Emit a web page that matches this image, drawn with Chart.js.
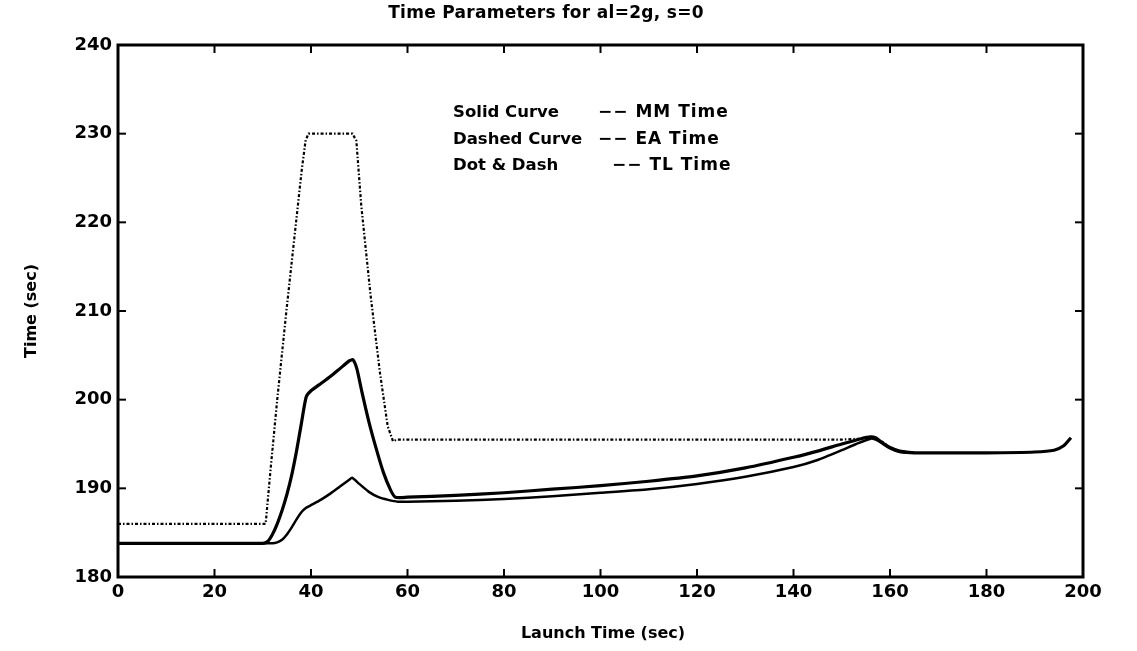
<!DOCTYPE html>
<html><head><meta charset="utf-8">
<script src="https://cdn.jsdelivr.net/npm/chart.js@4"></script>
<style>html,body{margin:0;padding:0;background:#fff}</style>
</head><body>
<canvas id="c" width="1137" height="651"></canvas>
<script>
// ---- data ----
const xTickValues = [0, 20, 40, 60, 80, 100, 120, 140, 160, 180, 200];
const yTickValues = [180, 190, 200, 210, 220, 230, 240];

const mmX = [0, 30, 31, 32, 33, 34, 35, 36, 37, 38, 39, 40, 42, 44, 46, 48, 48.7, 49.5, 50.5, 52, 53.5, 55, 56.5, 57.5, 60, 70, 80, 90, 100, 110, 120, 130, 140, 145, 150, 154, 156, 157, 158, 160, 162, 165, 170, 180, 190, 194, 196, 197.5];
const mmY = [183.8, 183.8, 184.0, 184.8, 186.0, 187.5, 189.3, 191.5, 194.2, 197.3, 200.3, 201.0, 201.8, 202.6, 203.5, 204.4, 204.5, 203.5, 201.0, 197.5, 194.5, 191.8, 189.8, 189.0, 189.0, 189.2, 189.5, 189.9, 190.3, 190.8, 191.4, 192.3, 193.5, 194.2, 195.0, 195.6, 195.8, 195.7, 195.3, 194.6, 194.2, 194.0, 194.0, 194.0, 194.1, 194.3, 194.8, 195.7];

const eaX = [0, 32, 33, 34, 35, 36, 37, 38, 39, 40, 42, 44, 46, 48, 48.5, 50, 52, 54, 56, 58, 60, 70, 80, 90, 100, 110, 120, 130, 140, 145, 150, 153, 156, 157, 158, 160, 162, 165];
const eaY = [183.8, 183.8, 183.9, 184.2, 184.8, 185.6, 186.5, 187.3, 187.8, 188.1, 188.7, 189.4, 190.2, 191.0, 191.2, 190.5, 189.6, 189.0, 188.7, 188.5, 188.5, 188.6, 188.8, 189.1, 189.5, 189.9, 190.5, 191.3, 192.4, 193.2, 194.3, 195.0, 195.6, 195.5, 195.2, 194.5, 194.1, 194.0];

const tlX = [0, 30.6, 31.6, 33.0, 34.9, 36.9, 38.1, 38.9, 39.5, 48.6, 49.4, 50.4, 52.3, 54.3, 55.9, 57.0, 57.8, 100, 150, 154, 156, 158, 160, 162, 165];
const tlY = [186, 186, 192, 200, 210, 220, 226, 229.3, 230, 230, 229.2, 222, 212, 203, 197, 195.3, 195.5, 195.5, 195.5, 195.6, 195.8, 195.4, 194.6, 194.2, 194.0];

const titleText = 'Time Parameters for al=2g, s=0';
const xTitle = 'Launch Time (sec)';
const yTitle = 'Time (sec)';
const legendNames = ['Solid Curve', 'Dashed Curve', 'Dot & Dash'];
const legendDesc = ['\u2212\u2212 MM Time', '\u2212\u2212 EA Time', '\u2212\u2212 TL Time'];

const pts = (xs, ys) => xs.map((x, i) => ({x, y: ys[i]}));
const FONT = '"DejaVu Sans", "Liberation Sans", sans-serif';

const framePlugin = {
  id: 'frame',
  afterDatasetsDraw(chart) {
    const {ctx, chartArea: a, scales} = chart;
    ctx.save();
    ctx.strokeStyle = '#000';
    ctx.lineWidth = 3;
    ctx.strokeRect(a.left, a.top, a.right - a.left, a.bottom - a.top);
    ctx.lineWidth = 2;
    const L = 8;
    xTickValues.forEach(v => {
      const px = scales.x.getPixelForValue(v);
      ctx.beginPath(); ctx.moveTo(px, a.bottom); ctx.lineTo(px, a.bottom - L); ctx.stroke();
      ctx.beginPath(); ctx.moveTo(px, a.top); ctx.lineTo(px, a.top + L); ctx.stroke();
    });
    yTickValues.forEach(v => {
      const py = scales.y.getPixelForValue(v);
      ctx.beginPath(); ctx.moveTo(a.left, py); ctx.lineTo(a.left + L, py); ctx.stroke();
      ctx.beginPath(); ctx.moveTo(a.right, py); ctx.lineTo(a.right - L, py); ctx.stroke();
    });
    ctx.restore();
  },
  afterDraw(chart) {
    const {ctx} = chart;
    ctx.save();
    ctx.fillStyle = '#000';
    ctx.textBaseline = 'middle';
    ctx.font = 'bold 17px ' + FONT;
    ctx.textAlign = 'center';
    ctx.letterSpacing = '0.3px';
    ctx.fillText(titleText, 546, 14);
    ctx.letterSpacing = '0px';
    ctx.font = 'bold 16px ' + FONT;
    ctx.fillText(xTitle, 603, 634);
    ctx.save();
    ctx.translate(32, 311);
    ctx.rotate(-Math.PI / 2);
    ctx.fillText(yTitle, 0, 0);
    ctx.restore();
    ctx.textAlign = 'left';
    const ly = [113, 140, 166];
    const dx = [598, 598, 612];
    legendNames.forEach((n, i) => {
      ctx.font = 'bold 16.5px ' + FONT;
      ctx.letterSpacing = '0px';
      ctx.fillText(n, 453, ly[i]);
      ctx.font = 'bold 17px ' + FONT;
      ctx.letterSpacing = '1px';
      ctx.fillText(legendDesc[i], dx[i], ly[i]);
    });
    ctx.restore();
  }
};

new Chart(document.getElementById('c'), {
  type: 'line',
  data: {
    datasets: [
      {label: 'MM Time', data: pts(mmX, mmY), borderColor: '#000', borderWidth: 3.2, pointRadius: 0, tension: 0.2, fill: false},
      {label: 'EA Time', data: pts(eaX, eaY), borderColor: '#000', borderWidth: 2.5, pointRadius: 0, tension: 0.2, fill: false},
      {label: 'TL Time', data: pts(tlX, tlY), borderColor: '#000', borderWidth: 2.2, borderDash: [3, 2, 1.5, 2], pointRadius: 0, tension: 0, fill: false}
    ]
  },
  options: {
    responsive: false,
    animation: false,
    devicePixelRatio: 1,
    layout: {padding: {left: 0, right: 54, top: 45, bottom: 0}},
    plugins: {legend: {display: false}, title: {display: false}, tooltip: {enabled: false}},
    scales: {
      x: {
        type: 'linear', min: 0, max: 200,
        afterBuildTicks: s => { s.ticks = xTickValues.map(v => ({value: v})); },
        afterFit: s => { s.height = 74; },
        grid: {display: false, drawTicks: false},
        border: {display: false},
        ticks: {color: '#000', font: {family: FONT, size: 18, weight: 'bold'}, padding: 5, maxRotation: 0}
      },
      y: {
        min: 180, max: 240,
        afterBuildTicks: s => { s.ticks = yTickValues.map(v => ({value: v})); },
        afterFit: s => { s.width = 118; },
        grid: {display: false, drawTicks: false},
        border: {display: false},
        ticks: {color: '#000', font: {family: FONT, size: 18, weight: 'bold'}, padding: 6}
      }
    }
  },
  plugins: [framePlugin]
});
</script>
</body></html>
